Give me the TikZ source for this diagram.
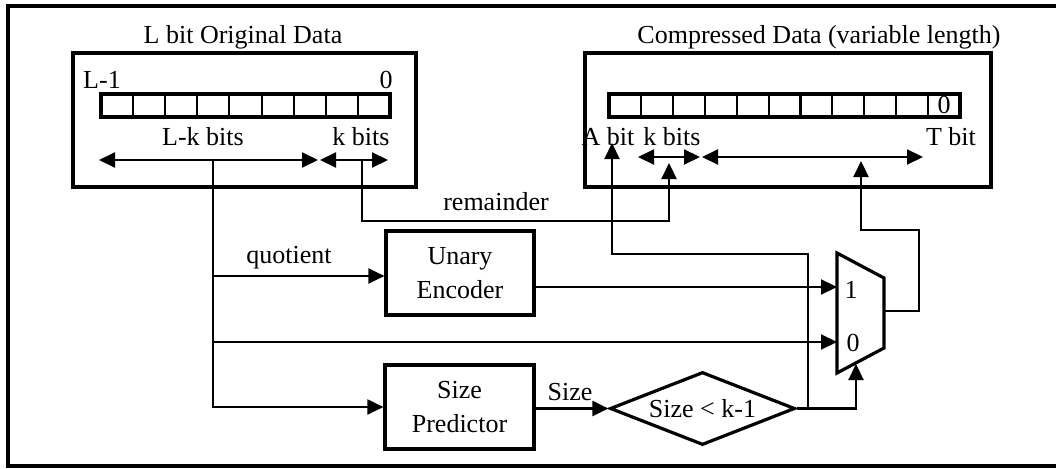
\documentclass[tikz,border=0pt]{standalone}
\usepackage{fontspec}
\setmainfont{Liberation Serif}
\usetikzlibrary{arrows.meta,shapes.geometric}
\begin{document}
\begin{tikzpicture}[x=1pt,y=-1pt,
  thick line/.style={line width=3.2pt},
  thin line/.style={line width=2.1pt},
  box/.style={draw,thick line,rectangle,inner sep=0pt,align=center},
  conn/.style={thin line,-{Triangle[length=16pt,width=15pt]}},
  dconn/.style={thin line,{Triangle[length=16pt,width=15pt]}-{Triangle[length=16pt,width=15pt]}},
  lbl/.style={inner sep=0pt},
  every node/.style={font=\fontsize{26}{34}\selectfont}]
\useasboundingbox (0,0) rectangle (1056,468);
% outer frame (right side beyond the page)
\draw[thick line] (8,6) rectangle (1070,466);

% boxes
\node[box,minimum width=343pt,minimum height=134pt] (lbox) at (244.5,120) {};
\node[box,minimum width=406pt,minimum height=134pt] (rbox) at (788,120) {};
\node[lbl] (ltitle) at (243,37) {L bit Original Data};
\node[lbl] (rtitle) at (819,37) {Compressed Data (variable length)};

% left register
\node[draw,thick line,minimum width=289pt,minimum height=23pt,inner sep=0pt] (reg1) at (245.5,105.5) {};
\foreach \i in {1,...,8} \draw[thin line] (101+\i*32.11,94) -- (101+\i*32.11,117);
\node[lbl] (lmsb) at (102,80) {L-1};
\node[lbl] (llsb) at (386,80) {0};
\node[lbl] (lklbl) at (203,137) {L-k bits};
\node[lbl] (kbl) at (361,137) {k bits};

% right register
\node[draw,thick line,minimum width=351pt,minimum height=23pt,inner sep=0pt] (reg2) at (784.5,105.5) {};
\foreach \i in {1,...,10} \draw[thin line] (609+\i*31.91,94) -- (609+\i*31.91,117);
\node[lbl] (rlsb) at (944,105) {0};
\node[lbl] (abit) at (608,137) {A bit};
\node[lbl] (kbr) at (672,137) {k bits};
\node[lbl] (tbit) at (951,137) {T bit};

% blocks
\node[box,minimum width=148pt,minimum height=84pt] (enc) at (460,273) {Unary\\Encoder};
\node[box,minimum width=149pt,minimum height=84pt] (pred) at (459.5,407) {Size\\Predictor};
\node[draw,thick line,diamond,shape aspect=2.5,minimum width=185pt,minimum height=73pt,inner sep=0pt] (cmp) at (702.5,408.5) {Size < k-1};

% mux
\draw[thick line,line join=miter] (837,253) -- (884,278) -- (884,348) -- (837,373) -- cycle;
\coordinate (mux1) at (837,287);
\coordinate (mux0) at (837,342);
\coordinate (muxsel) at (856,364);
\coordinate (muxout) at (884,311);
\node[lbl] (m1) at (851,290) {1};
\node[lbl] (m0) at (853,343) {0};

% bit-range arrows
\coordinate (lkL) at (99,160); \coordinate (lkR) at (318,160);
\coordinate (kL) at (320,160); \coordinate (kR) at (388,160);
\draw[dconn] (lkL) -- (lkR);
\draw[dconn] (kL) -- (kR);
\coordinate (rkL) at (638,157); \coordinate (rkR) at (700,157);
\coordinate (rtL) at (702,157); \coordinate (rtR) at (923,157);
\draw[dconn] (rkL) -- (rkR);
\draw[dconn] (rtL) -- (rtR);

% quotient trunk
\coordinate (lkmid) at (213,160);
\coordinate (qy) at (213,276);
\coordinate (dy) at (213,342);
\draw[conn] (lkmid) |- (pred.west);
\draw[conn] (qy) -- (enc.west |- qy);
\draw[conn] (dy) -- (mux0);
\node[lbl] (quot) at (289,258) {quotient};

% remainder
\coordinate (kmid) at (362,160);
\coordinate (rkin) at (669,163);
\draw[conn] (kmid) -- (362,221) -| (rkin);
\node[lbl] (rem) at (496,202) {remainder};

% encoder to mux
\draw[conn] (enc.east |- mux1) -- (mux1);

% predictor to comparator
\draw[conn] (pred.east |- cmp.west) -- (cmp.west);
\node[lbl] (sizel) at (570,392) {Size};

% comparator to mux select
\coordinate (selx) at (856,408.5);
\draw[conn] (cmp.east) -- (selx) -- (muxsel);

% A bit
\coordinate (abr) at (808,408.5);
\coordinate (ain) at (612,143);
\draw[conn] (abr) -- (808,254) -| (ain);

% mux output to T bit
\coordinate (tin) at (861,161);
\draw[conn] (muxout) -- (919,311) -- (919,230) -| (tin);
\end{tikzpicture}
\end{document}
